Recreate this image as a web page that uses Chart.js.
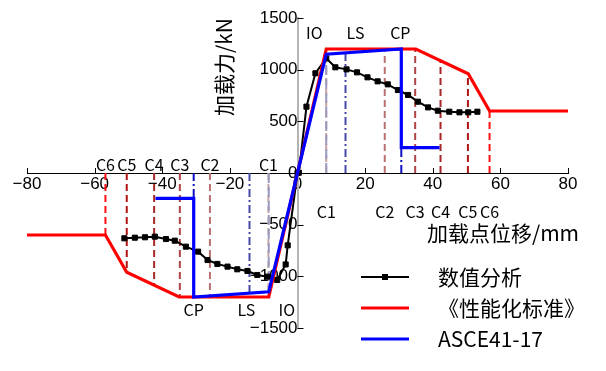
<!DOCTYPE html>
<html>
<head>
<meta charset="utf-8">
<script src="https://cdn.jsdelivr.net/npm/chart.js@4.4.0/dist/chart.umd.min.js"></script>
<style>body{margin:0;background:#fff}</style>
</head>
<body>
<canvas id="chart" width="606" height="371"></canvas>
<script>
// 数值分析
var numX = [-51.2, -48.1, -45.1, -42.2, -38.9, -36.3, -33.0, -29.4, -26.6, -23.7, -20.7, -17.8, -14.8, -11.9, -8.9, -6.0, -3.5, -2.9, 0,
            0.4, 2.65, 5.3, 8.5, 11.2, 14.5, 17.6, 20.7, 23.7, 26.7, 29.7, 32.7, 35.6, 38.6, 41.5, 44.9, 47.9, 50.5, 53.2];
var numY = [-632, -626, -622, -616, -639, -655, -713, -761, -842, -880, -906, -932, -948, -987, -1003, -1035, -885, -700, 0,
            3, 642, 965, 1110, 1023, 1003, 974, 926, 887, 858, 803, 755, 690, 635, 603, 593, 587, 587, 593];
// 《性能化标准》
var stdX = [-80, -56.8, -50.5, -35, -8.5, 0, 8.5, 35, 50.5, 56.8, 80];
var stdY = [-600, -600, -960, -1200, -1200, 0, 1200, 1200, 960, 600, 600];
// ASCE41-17
var asceX = [-42, -30.7, -30.7, -8.5, 0, 8.5, 30.7, 30.7, 42];
var asceY = [-245, -245, -1200, -1150, 0, 1150, 1200, 245, 245];
// IO / LS / CP
var levelNames = ['IO', 'LS', 'CP'];
var levelX = [8.5, 14.2, 30.7];
var levelTop = [1150, 1165, 245];
var levelBottom = [-1120, -1165, -245];
// C1..C6
var cNames = ['C1', 'C2', 'C3', 'C4', 'C5', 'C6'];
var cXPos = [8.5, 25.8, 34.8, 42.3, 50.4, 56.8];
var cYPos = [1200, 1200, 1200, 1088, 962, 600];
var cXNeg = [-8.6, -25.9, -34.8, -42.4, -50.5, -56.8];
var cYNeg = [-1200, -1200, -1200, -1085, -960, -600];
// ticks
var xTicks = [-80, -60, -40, -20, 0, 20, 40, 60, 80];
var yTicks = [-1500, -1000, -500, 0, 500, 1000, 1500];

function pts(xs, ys) {
    return xs.map(function (x, i) { return {x: x, y: ys[i]}; });
}

var cColors = ['#c8a4a4', '#b87070', '#b04444', '#a82626', '#b01414', '#ff1010'];
var levelColors = ['#9a9ac0', '#4848a8', '#1010c0'];
var levelDash = [[10, 4], [8, 3, 2, 3], [8, 3, 2, 3]];

var datasets = [];
// 竖向虚线
cNames.forEach(function (n, i) {
    [[cXPos[i], cYPos[i]], [cXNeg[i], cYNeg[i]]].forEach(function (p) {
        datasets.push({
            label: n, data: pts([p[0], p[0]], [0, p[1]]),
            borderColor: cColors[i], borderWidth: 2, borderDash: [7, 4],
            pointRadius: 0, showLine: true, order: 10
        });
    });
});
levelNames.forEach(function (n, i) {
    [levelTop[i], levelBottom[i]].forEach(function (y, k) {
        var x = k === 0 ? levelX[i] : -levelX[i];
        datasets.push({
            label: n, data: pts([x, x], [0, y]),
            borderColor: levelColors[i], borderWidth: 2, borderDash: levelDash[i],
            pointRadius: 0, showLine: true, order: 9
        });
    });
});
datasets.push({
    label: '数值分析', data: pts(numX, numY),
    borderColor: '#000', backgroundColor: '#000', borderWidth: 2,
    pointStyle: 'rect', pointRadius: 3.6, pointBorderWidth: 1, showLine: true, order: 3
});
datasets.push({
    label: '《性能化标准》', data: pts(stdX, stdY),
    borderColor: '#ff0000', borderWidth: 3.2, pointRadius: 0, showLine: true, order: 2
});
datasets.push({
    label: 'ASCE41-17', data: pts(asceX, asceY),
    borderColor: '#0000ff', borderWidth: 3.2, pointRadius: 0, showLine: true, order: 1
});

var cjk = '"Noto Sans CJK SC", sans-serif';

var annot = {
    id: 'annot',
    afterDraw: function (chart) {
        var ctx = chart.ctx, sx = chart.scales.x, sy = chart.scales.y;
        var x0 = sx.getPixelForValue(0), y0 = sy.getPixelForValue(0);
        ctx.save();
        // tick marks
        ctx.strokeStyle = '#000';
        ctx.lineWidth = 1;
        xTicks.forEach(function (v) {
            if (v === 0) return;
            var px = Math.round(sx.getPixelForValue(v)) + 0.5;
            ctx.beginPath(); ctx.moveTo(px, y0); ctx.lineTo(px, y0 - 5); ctx.stroke();
        });
        yTicks.forEach(function (v) {
            if (v === 0) return;
            var py = Math.round(sy.getPixelForValue(v)) + 0.5;
            ctx.beginPath(); ctx.moveTo(x0, py); ctx.lineTo(x0 + 6, py); ctx.stroke();
        });
        ctx.fillStyle = '#000';
        ctx.textAlign = 'center';
        ctx.textBaseline = 'middle';
        ctx.font = '16px ' + cjk;
        // C labels
        cNames.forEach(function (n, i) {
            ctx.fillText(n, sx.getPixelForValue(cXPos[i]), 212);
            ctx.fillText(n, sx.getPixelForValue(cXNeg[i]), 165);
        });
        // IO LS CP
        var topOff = [-12, 10, -1], botOff = [18, -3, 0];
        levelNames.forEach(function (n, i) {
            ctx.fillText(n, sx.getPixelForValue(levelX[i]) + topOff[i], 33);
            ctx.fillText(n, sx.getPixelForValue(-levelX[i]) + botOff[i], 310);
        });
        // axis titles
        ctx.font = '21px ' + cjk;
        ctx.fillText('加载点位移/mm', 503, 233);
        ctx.save();
        ctx.translate(224, 67);
        ctx.rotate(-Math.PI / 2);
        ctx.fillText('加载力/kN', 0, 0);
        ctx.restore();
        // legend
        var items = chart.data.datasets.slice(-3);
        var ly = [277, 308, 339];
        ctx.textAlign = 'left';
        items.forEach(function (d, i) {
            ctx.strokeStyle = d.borderColor;
            ctx.lineWidth = d.borderWidth;
            ctx.beginPath(); ctx.moveTo(361, ly[i]); ctx.lineTo(409, ly[i]); ctx.stroke();
            if (d.pointRadius > 0) {
                ctx.fillStyle = d.backgroundColor;
                ctx.fillRect(382, ly[i] - 3, 6, 6);
            }
            ctx.fillStyle = '#000';
            ctx.fillText(d.label, 438, ly[i]);
        });
        ctx.restore();
    }
};

function minus(v) { return String(v).replace('-', '\u2212'); }

new Chart(document.getElementById('chart'), {
    type: 'scatter',
    data: {datasets: datasets},
    options: {
        responsive: false,
        animation: false,
        layout: {padding: {left: 27, right: 38, top: 18, bottom: 43}},
        plugins: {legend: {display: false}, tooltip: {enabled: false}},
        scales: {
            x: {
                type: 'linear', min: -80, max: 80, position: {y: 0},
                afterBuildTicks: function (s) { s.ticks = xTicks.map(function (v) { return {value: v}; }); },
                grid: {display: false, drawTicks: false},
                border: {display: true, color: '#000', width: 1},
                ticks: {font: {family: 'Liberation Sans', size: 17}, color: '#000', padding: 1,
                        maxRotation: 0, autoSkip: false, callback: minus}
            },
            y: {
                type: 'linear', min: -1500, max: 1500, position: {x: 0},
                afterBuildTicks: function (s) { s.ticks = yTicks.map(function (v) { return {value: v}; }); },
                grid: {display: false, drawTicks: false},
                border: {display: true, color: '#b4b4b4', width: 2},
                ticks: {font: {family: 'Liberation Sans', size: 17}, color: '#000', padding: 6,
                        autoSkip: false, callback: minus}
            }
        }
    },
    plugins: [annot]
});
</script>
</body>
</html>
